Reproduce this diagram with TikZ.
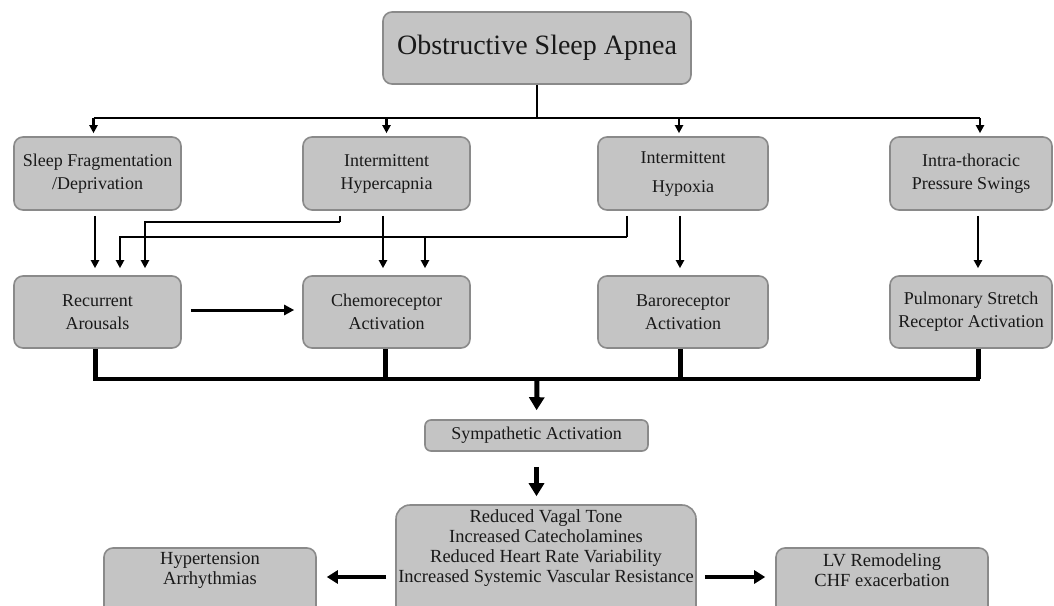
\documentclass[tikz,border=0pt]{standalone}
\usepackage{fontspec}
\setmainfont{Liberation Serif}
\usetikzlibrary{arrows.meta}
\definecolor{boxfill}{RGB}{196,196,196}
\definecolor{boxline}{RGB}{138,138,138}
\definecolor{ink}{RGB}{25,25,25}
\begin{document}
\begin{tikzpicture}[x=1pt,y=-1pt,
  box/.style={draw=boxline, fill=boxfill, line width=1.6pt, rounded corners=9pt,
    align=center, inner sep=0pt, text=ink, font=\fontsize{18}{23}\selectfont},
  plain/.style={align=center, inner sep=0pt, text=ink, font=\fontsize{18.5}{20}\selectfont},
  conn/.style={line width=2.3pt, black},
  arr/.style={conn, -{Triangle[width=8pt,length=8pt]}},
  thickline/.style={line width=5pt, black},
  bigarr/.style={line width=5pt, black, -{Triangle[width=15pt,length=13pt]}},
  sidearr/.style={line width=4.5pt, black, -{Triangle[width=13pt,length=11pt]}}]
\useasboundingbox (0,0) rectangle (1054,605);
\clip (0,0) rectangle (1054,605);
\fill[white] (0,0) rectangle (1054,605);

% top
\node[box, minimum width=308pt, minimum height=72pt, font=\fontsize{28}{30}\selectfont] (osa) at (537,48) {Obstructive Sleep Apnea};

% row 1
\node[box, minimum width=167pt, minimum height=73pt] (sf) at (97.5,173.5) {Sleep Fragmentation\\/Deprivation};
\node[box, minimum width=167pt, minimum height=73pt] (hc) at (386.5,173.5) {Intermittent\\Hypercapnia};
\node[box, minimum width=170pt, minimum height=73pt] (hx) at (683,173.5) {Intermittent\\[6pt]Hypoxia};
\node[box, minimum width=162pt, minimum height=73pt] (it) at (971,173.5) {Intra-thoracic\\Pressure Swings};

% row 2
\node[box, minimum width=167pt, minimum height=72pt] (ra) at (97.5,312) {Recurrent\\Arousals};
\node[box, minimum width=167pt, minimum height=72pt] (ch) at (386.5,312) {Chemoreceptor\\Activation};
\node[box, minimum width=170pt, minimum height=72pt] (br) at (683,312) {Baroreceptor\\Activation};
\node[box, minimum width=162pt, minimum height=72pt] (ps) at (971,312) {Pulmonary Stretch\\Receptor Activation};

% sympathetic
\node[box, minimum width=223pt, minimum height=31pt, rounded corners=6pt] (sa) at (536.5,435.5) {Sympathetic Activation};

% bottom row boxes (extend below the frame)
\node[box, minimum width=300pt, minimum height=120pt, rounded corners=14pt] (btbox) at (546,565) {};
\node[plain] (bt) at (546,548) {Reduced Vagal Tone\\Increased Catecholamines\\Reduced Heart Rate Variability\\Increased Systemic Vascular Resistance};
\node[box, minimum width=212pt, minimum height=80pt] (htbox) at (210,588) {};
\node[plain] (ht) at (210,570) {Hypertension\\Arrhythmias};
\node[box, minimum width=212pt, minimum height=80pt] (lvbox) at (882,588) {};
\node[plain] (lv) at (882,570) {LV Remodeling\\CHF exacerbation};

% OSA distribution
\coordinate (j0) at (537,118);
\draw[conn] (osa.south) -- (j0);
\coordinate (sfT) at ([xshift=-4pt]sf.north);
\coordinate (hcT) at (hc.north);
\coordinate (hxT) at ([xshift=-4pt]hx.north);
\coordinate (itT) at ([xshift=9pt]it.north);
\draw[conn] (sfT |- j0) -- (itT |- j0);
\draw[arr, shorten >=3pt] (sfT |- j0) -- (sfT);
\draw[arr, shorten >=3pt] (hcT |- j0) -- (hcT);
\draw[arr, shorten >=3pt] (hxT |- j0) -- (hxT);
\draw[arr, shorten >=3pt] (itT |- j0) -- (itT);

% row 1 -> row 2
\draw[arr, shorten <=5pt, shorten >=7pt] ([xshift=-2.5pt]sf.south) -- ([xshift=-2.5pt]ra.north);
\coordinate (raB) at ([xshift=47.5pt]ra.north);
\coordinate (raC) at ([xshift=22.5pt]ra.north);
\coordinate (hcOut) at ([xshift=-46.5pt]hc.south);
\coordinate (hcTurn) at (340,222);
\draw[conn, shorten <=5pt] (hcOut) -- (hcTurn);
\draw[arr, shorten >=7pt] (hcTurn) -| (raB);
\draw[arr, shorten <=5pt, shorten >=7pt] ([xshift=-3.5pt]hc.south) -- ([xshift=-3.5pt]ch.north);
\coordinate (hxOut) at ([xshift=-56pt]hx.south);
\coordinate (hxTurn) at (627,237);
\coordinate (chB) at ([xshift=38.5pt]ch.north);
\draw[conn, shorten <=5pt] (hxOut) -- (hxTurn);
\draw[arr, shorten >=7pt] (hxTurn) -| (raC);
\draw[arr, shorten >=7pt] (hxTurn -| chB) -- (chB);
\draw[arr, shorten <=5pt, shorten >=7pt] ([xshift=-3pt]hx.south) -- ([xshift=-3pt]br.north);
\draw[arr, shorten <=5pt, shorten >=7pt] ([xshift=7pt]it.south) -- ([xshift=7pt]ps.north);
\draw[line width=3pt, -{Triangle[width=10pt,length=10pt]}, shorten <=9pt, shorten >=8pt] ([yshift=2pt]ra.east) -- ([yshift=2pt]ch.west);

% row 2 -> sympathetic
\coordinate (jb) at (537,379);
\coordinate (raS) at ([xshift=-2.5pt]ra.south);
\coordinate (chS) at ([xshift=-1.5pt]ch.south);
\coordinate (brS) at ([xshift=-3pt]br.south);
\coordinate (psS) at ([xshift=7pt]ps.south);
\draw[thickline] (raS) -- (raS |- jb);
\draw[thickline] (chS) -- (chS |- jb);
\draw[thickline] (brS) -- (brS |- jb);
\draw[thickline] (psS) -- (psS |- jb);
\draw[line width=4pt, line cap=rect] (raS |- jb) -- (psS |- jb);
\draw[bigarr, shorten >=9pt] (jb) -- (sa.north);

% sympathetic -> bottom
\draw[bigarr, shorten <=15pt, shorten >=8pt] (sa.south) -- (sa.south |- btbox.north);

% bottom sides
\coordinate (bl) at (btbox.west |- 0,577);
\coordinate (br2) at (btbox.east |- 0,577);
\draw[sidearr, shorten <=9pt, shorten >=10pt] (bl) -- (bl -| htbox.east);
\draw[sidearr, shorten <=8pt, shorten >=10pt] (br2) -- (br2 -| lvbox.west);
\end{tikzpicture}
\end{document}
